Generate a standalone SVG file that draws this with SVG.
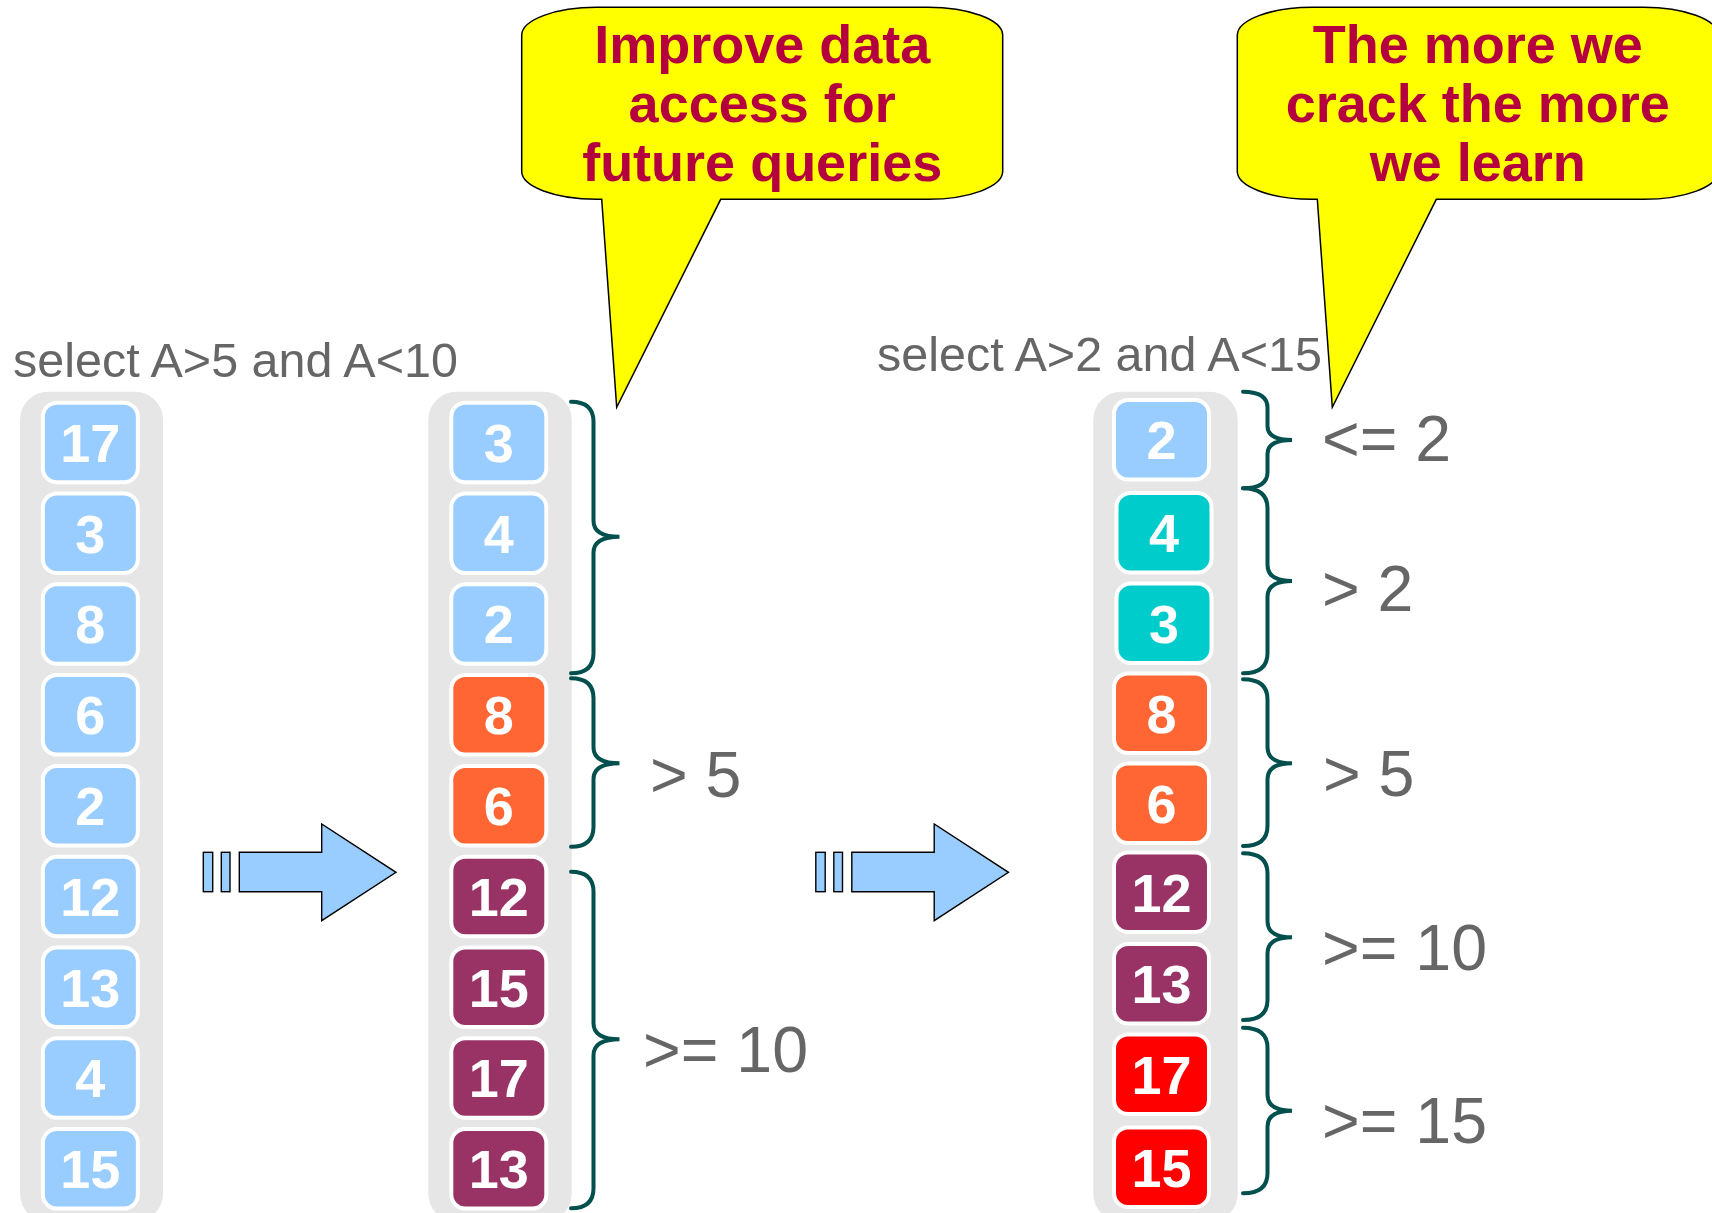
<svg xmlns="http://www.w3.org/2000/svg" width="1712" height="1213" viewBox="0 0 1712 1213">
  <style>
    .col { fill: #e6e6e6; }
    .cell { stroke: #ffffff; stroke-width: 4; }
    .cell text { stroke: none; font-family: "Liberation Sans", Arial, sans-serif; font-weight: bold; font-size: 54px; fill: #ffffff; text-anchor: middle; }
    .blue { fill: #99ccff; }
    .teal { fill: #00cccc; }
    .orange { fill: #ff6633; }
    .purple { fill: #993366; }
    .red { fill: #ff0000; }
    .query { font-family: "Liberation Sans", Arial, sans-serif; font-size: 48.5px; fill: #666666; }
    .range { font-family: "Liberation Sans", Arial, sans-serif; font-size: 64.5px; fill: #666666; }
    .brace { fill: none; stroke: #02504e; stroke-width: 4; stroke-linecap: round; }
    .bubble { fill: #ffff00; stroke: #000000; stroke-width: 1.5; }
    .bubble text { stroke: none; font-family: "Liberation Sans", Arial, sans-serif; font-weight: bold; font-size: 54px; fill: #b5003f; text-anchor: middle; }
    .flow { fill: #99ccff; stroke: #000000; stroke-width: 1.4; }
  </style>
  <defs>
    <rect id="cellbox" x="0" y="0" width="95" height="79.5" rx="14" ry="14"/>
    <path id="callout" d="M597,7.3 L927,7.3 A75,28 0 0 1 1002.7,35 L1002.7,171 A75,28 0 0 1 927,199.3 L720.7,199.3 L616.7,407.3 L601.7,199.3 L597,199.3 A75,28 0 0 1 521.7,171 L521.7,35 A75,28 0 0 1 597,7.3 Z"/>
  </defs>

  <!-- query labels -->
  <text id="query1" class="query" x="13" y="377">select A&gt;5 and A&lt;10</text>
  <text id="query2" class="query" x="877" y="370.5">select A&gt;2 and A&lt;15</text>

  <!-- column backgrounds -->
  <rect id="column1" class="col" x="20" y="391.7" width="143" height="830" rx="28" ry="28"/>
  <rect id="column2" class="col" x="428.3" y="391.7" width="143.4" height="830" rx="28" ry="28"/>
  <rect id="column3" class="col" x="1093.3" y="391.7" width="144.4" height="830" rx="28" ry="28"/>

  <!-- column 1: original order -->
  <g id="col1-cells">
    <g id="c1-0" class="cell blue" transform="translate(42.85,402.7)"><use href="#cellbox"/><text x="47.5" y="59">17</text></g>
    <g id="c1-1" class="cell blue" transform="translate(42.85,493.5)"><use href="#cellbox"/><text x="47.5" y="59">3</text></g>
    <g id="c1-2" class="cell blue" transform="translate(42.85,584.3)"><use href="#cellbox"/><text x="47.5" y="59">8</text></g>
    <g id="c1-3" class="cell blue" transform="translate(42.85,675.1)"><use href="#cellbox"/><text x="47.5" y="59">6</text></g>
    <g id="c1-4" class="cell blue" transform="translate(42.85,765.9)"><use href="#cellbox"/><text x="47.5" y="59">2</text></g>
    <g id="c1-5" class="cell blue" transform="translate(42.85,856.7)"><use href="#cellbox"/><text x="47.5" y="59">12</text></g>
    <g id="c1-6" class="cell blue" transform="translate(42.85,947.5)"><use href="#cellbox"/><text x="47.5" y="59">13</text></g>
    <g id="c1-7" class="cell blue" transform="translate(42.85,1038.3)"><use href="#cellbox"/><text x="47.5" y="59">4</text></g>
    <g id="c1-8" class="cell blue" transform="translate(42.85,1129.1)"><use href="#cellbox"/><text x="47.5" y="59">15</text></g>
  </g>

  <!-- column 2: after first crack -->
  <g id="col2-cells">
    <g id="c2-0" class="cell blue" transform="translate(451.3,402.7)"><use href="#cellbox"/><text x="47.5" y="59">3</text></g>
    <g id="c2-1" class="cell blue" transform="translate(451.3,493.5)"><use href="#cellbox"/><text x="47.5" y="59">4</text></g>
    <g id="c2-2" class="cell blue" transform="translate(451.3,584.3)"><use href="#cellbox"/><text x="47.5" y="59">2</text></g>
    <g id="c2-3" class="cell orange" transform="translate(451.3,675.1)"><use href="#cellbox"/><text x="47.5" y="59">8</text></g>
    <g id="c2-4" class="cell orange" transform="translate(451.3,765.9)"><use href="#cellbox"/><text x="47.5" y="59">6</text></g>
    <g id="c2-5" class="cell purple" transform="translate(451.3,856.7)"><use href="#cellbox"/><text x="47.5" y="59">12</text></g>
    <g id="c2-6" class="cell purple" transform="translate(451.3,947.5)"><use href="#cellbox"/><text x="47.5" y="59">15</text></g>
    <g id="c2-7" class="cell purple" transform="translate(451.3,1038.3)"><use href="#cellbox"/><text x="47.5" y="59">17</text></g>
    <g id="c2-8" class="cell purple" transform="translate(451.3,1129.1)"><use href="#cellbox"/><text x="47.5" y="59">13</text></g>
  </g>

  <!-- column 3: after second crack -->
  <g id="col3-cells">
    <g id="c3-0" class="cell blue" transform="translate(1114,400)"><use href="#cellbox"/><text x="47.5" y="59">2</text></g>
    <g id="c3-1" class="cell teal" transform="translate(1116.5,493)"><use href="#cellbox"/><text x="47.5" y="59">4</text></g>
    <g id="c3-2" class="cell teal" transform="translate(1116.5,583.5)"><use href="#cellbox"/><text x="47.5" y="59">3</text></g>
    <g id="c3-3" class="cell orange" transform="translate(1114,673.5)"><use href="#cellbox"/><text x="47.5" y="59">8</text></g>
    <g id="c3-4" class="cell orange" transform="translate(1114,763.5)"><use href="#cellbox"/><text x="47.5" y="59">6</text></g>
    <g id="c3-5" class="cell purple" transform="translate(1114,852.5)"><use href="#cellbox"/><text x="47.5" y="59">12</text></g>
    <g id="c3-6" class="cell purple" transform="translate(1114,944)"><use href="#cellbox"/><text x="47.5" y="59">13</text></g>
    <g id="c3-7" class="cell red" transform="translate(1114,1034.5)"><use href="#cellbox"/><text x="47.5" y="59">17</text></g>
    <g id="c3-8" class="cell red" transform="translate(1114,1127.5)"><use href="#cellbox"/><text x="47.5" y="59">15</text></g>
  </g>

  <!-- braces grouping the pieces -->
  <g id="braces">
    <path class="brace" d="M571,401.7 Q593.5,401.7 593.5,421.7 L593.5,520.7 Q593.5,536.7 619.5,536.7 Q593.5,536.7 593.5,552.7 L593.5,653.3 Q593.5,673.3 571,673.3"/>
    <path class="brace" d="M571,678.3 Q593.5,678.3 593.5,698.3 L593.5,747.3 Q593.5,763.3 619.5,763.3 Q593.5,763.3 593.5,779.3 L593.5,826.7 Q593.5,846.7 571,846.7"/>
    <path class="brace" d="M571,871.7 Q593.5,871.7 593.5,891.7 L593.5,1023.3 Q593.5,1039.3 619.5,1039.3 Q593.5,1039.3 593.5,1055.3 L593.5,1188.3 Q593.5,1208.3 571,1208.3"/>

    <path class="brace" d="M1243,391.7 Q1267.5,391.7 1267.5,407.7 L1267.5,426 Q1267.5,440 1292,440 Q1267.5,440 1267.5,454 L1267.5,472.3 Q1267.5,488.3 1243,488.3"/>
    <path class="brace" d="M1243,488.3 Q1267.5,488.3 1267.5,508.3 L1267.5,565 Q1267.5,581 1292,581 Q1267.5,581 1267.5,597 L1267.5,653.3 Q1267.5,673.3 1243,673.3"/>
    <path class="brace" d="M1243,679.3 Q1267.5,679.3 1267.5,699.3 L1267.5,747.3 Q1267.5,763.3 1292,763.3 Q1267.5,763.3 1267.5,779.3 L1267.5,826 Q1267.5,846 1243,846"/>
    <path class="brace" d="M1243,853.3 Q1267.5,853.3 1267.5,873.3 L1267.5,921.3 Q1267.5,937.3 1292,937.3 Q1267.5,937.3 1267.5,953.3 L1267.5,1000 Q1267.5,1020 1243,1020"/>
    <path class="brace" d="M1243,1027.7 Q1267.5,1027.7 1267.5,1047.7 L1267.5,1094.7 Q1267.5,1110.7 1292,1110.7 Q1267.5,1110.7 1267.5,1126.7 L1267.5,1173.3 Q1267.5,1193.3 1243,1193.3"/>
  </g>

  <!-- range labels -->
  <g id="ranges">
    <text class="range" x="650" y="796.7">&gt; 5</text>
    <text class="range" x="643" y="1071.7">&gt;= 10</text>
    <text class="range" x="1322" y="461">&lt;= 2</text>
    <text class="range" x="1322" y="610.7">&gt; 2</text>
    <text class="range" x="1323" y="796">&gt; 5</text>
    <text class="range" x="1322" y="970">&gt;= 10</text>
    <text class="range" x="1322" y="1143.3">&gt;= 15</text>
  </g>

  <!-- transition arrows -->
  <g id="connectors">
    <g id="arrow1">
      <rect class="flow" x="203.3" y="852.3" width="9.4" height="39.4"/>
      <rect class="flow" x="221.3" y="852.3" width="8.7" height="39.4"/>
      <polygon class="flow" points="239.3,852.3 321.7,852.3 321.7,824 396,872.3 321.7,920.7 321.7,891.7 239.3,891.7"/>
    </g>
    <g id="arrow2" transform="translate(612.5,0)">
      <rect class="flow" x="203.3" y="852.3" width="9.4" height="39.4"/>
      <rect class="flow" x="221.3" y="852.3" width="8.7" height="39.4"/>
      <polygon class="flow" points="239.3,852.3 321.7,852.3 321.7,824 396,872.3 321.7,920.7 321.7,891.7 239.3,891.7"/>
    </g>
  </g>

  <!-- callouts -->
  <g id="callout1" class="bubble">
    <use href="#callout"/>
    <text x="762.2" y="63">Improve data</text>
    <text x="762.2" y="122">access for</text>
    <text x="762.2" y="181">future queries</text>
  </g>
  <g id="callout2" class="bubble">
    <use href="#callout" transform="translate(715.6,0)"/>
    <text x="1477.8" y="63">The more we</text>
    <text x="1477.8" y="122">crack the more</text>
    <text x="1477.8" y="181">we learn</text>
  </g>
</svg>
